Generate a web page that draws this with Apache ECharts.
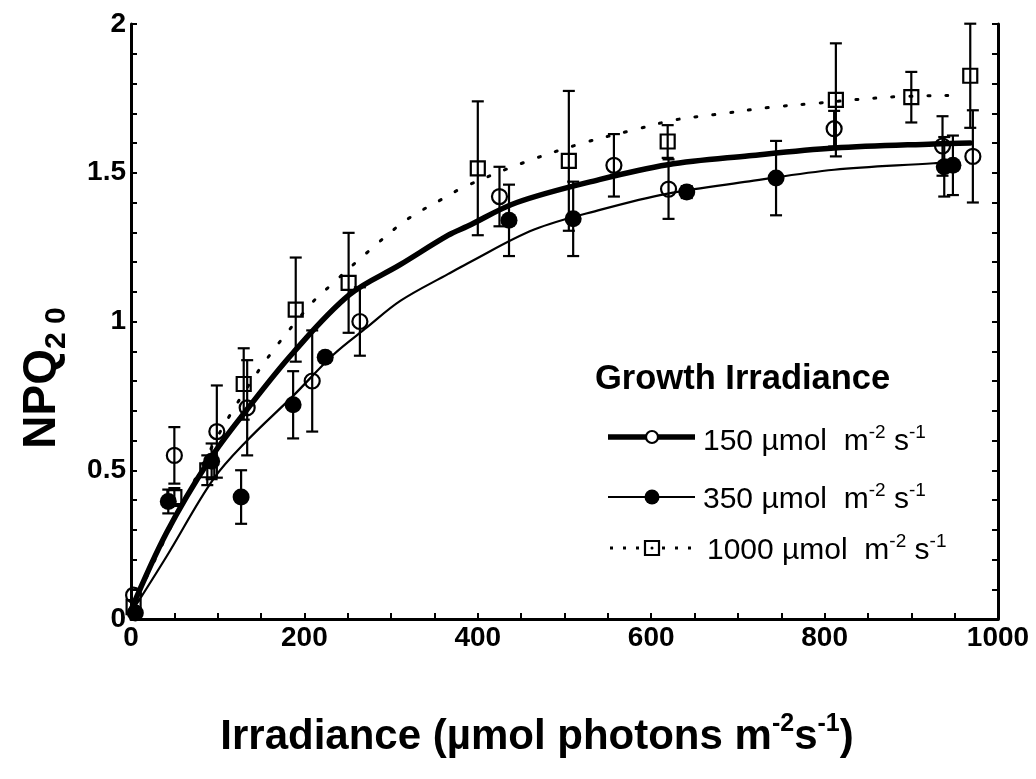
<!DOCTYPE html>
<html>
<head>
<meta charset="utf-8">
<script src="https://cdn.jsdelivr.net/npm/echarts@6/dist/echarts.min.js"></script>
<style>
  html, body { margin: 0; padding: 0; background: #fff; }
  #chart { width: 1036px; height: 779px; }
</style>
</head>
<body>
<div id="chart"></div>
<script>
// NPQ(20) versus irradiance for three growth irradiances

// Growth at 150 µmol m-2 s-1 (open circles)
const g150X   = [3, 50, 99, 134, 209, 264, 425, 557, 620, 811, 936, 971];
const g150Y   = [0.08, 0.55, 0.63, 0.71, 0.80, 1.00, 1.42, 1.525, 1.445, 1.648, 1.59, 1.555];
const g150Err = [0, 0.095, 0.155, 0.16, 0.17, 0.115, 0.10, 0.105, 0.10, 0.06, 0.10, 0.155];

// Growth at 350 µmol m-2 s-1 (filled circles)
const g350X   = [5, 43, 93, 127, 187, 224, 436, 510, 641, 744, 938, 948];
const g350Y   = [0.02, 0.395, 0.53, 0.41, 0.72, 0.88, 1.34, 1.345, 1.435, 1.482, 1.52, 1.525];
const g350Err = [0, 0.04, 0.06, 0.09, 0.113, 0, 0.12, 0.125, 0.02, 0.125, 0.1, 0.1];

// Growth at 1000 µmol m-2 s-1 (open squares)
const g1000X   = [3, 50, 88, 130, 190, 251, 400, 505, 619, 813, 900, 968];
const g1000Y   = [0.04, 0.41, 0.50, 0.79, 1.04, 1.13, 1.515, 1.54, 1.605, 1.745, 1.754, 1.826];
const g1000Err = [0, 0.03, 0.05, 0.12, 0.175, 0.168, 0.225, 0.235, 0.055, 0.19, 0.085, 0.175];

// Fitted curves
const fit150X  = [0, 41, 91, 134, 187, 252, 310, 366, 388, 445, 540, 619, 713, 811, 926, 968];
const fit150Y  = [0.03, 0.29, 0.537, 0.705, 0.895, 1.09, 1.19, 1.29, 1.32, 1.40, 1.477, 1.527, 1.557, 1.583, 1.597, 1.60];
const fit350X  = [0, 41, 95, 134, 187, 234, 272, 311, 366, 388, 465, 542, 619, 713, 811, 926, 940];
const fit350Y  = [0.02, 0.21, 0.47, 0.60, 0.75, 0.89, 0.98, 1.07, 1.16, 1.195, 1.309, 1.376, 1.43, 1.471, 1.51, 1.532, 1.536];
const fit1000X = [0, 41, 74, 110, 155, 207, 230, 274, 318, 361, 384, 451, 518, 584, 628, 672, 738, 784, 873, 942];
const fit1000Y = [0.03, 0.28, 0.47, 0.665, 0.867, 1.057, 1.121, 1.236, 1.342, 1.415, 1.452, 1.532, 1.597, 1.647, 1.678, 1.695, 1.72, 1.732, 1.754, 1.76];

// Axis ticks
const xTickLabels = ['0', '200', '400', '600', '800', '1000'];
const yTickLabels = ['0', '0.5', '1', '1.5', '2'];

const FONT = "'Liberation Sans', Arial, Helvetica, sans-serif";
const pairs = (xs, ys) => xs.map((x, i) => [x, ys[i]]);

function errorBars(xs, ys, errs) {
  const data = [];
  xs.forEach((x, i) => { if (errs[i] > 0) data.push([x, ys[i] - errs[i], ys[i] + errs[i]]); });
  return {
    type: 'custom',
    z: 3,
    silent: true,
    clip: false,
    data,
    encode: { x: 0, y: [1, 2] },
    renderItem(params, api) {
      const lo = api.coord([api.value(0), api.value(1)]);
      const hi = api.coord([api.value(0), api.value(2)]);
      const cap = 6;
      const style = { stroke: '#000', lineWidth: 2.2 };
      return {
        type: 'group',
        children: [
          { type: 'line', shape: { x1: lo[0], y1: lo[1], x2: hi[0], y2: hi[1] }, style },
          { type: 'line', shape: { x1: lo[0] - cap, y1: lo[1], x2: lo[0] + cap, y2: lo[1] }, style },
          { type: 'line', shape: { x1: hi[0] - cap, y1: hi[1], x2: hi[0] + cap, y2: hi[1] }, style }
        ]
      };
    }
  };
}

function fitLine(xs, ys, width, type) {
  return {
    type: 'line',
    data: pairs(xs, ys),
    smooth: 0.35,
    symbol: 'none',
    silent: true,
    z: 2,
    lineStyle: { color: '#000', width, type, cap: 'round' }
  };
}

function points(xs, ys, symbol, size, filled) {
  return {
    type: 'scatter',
    data: pairs(xs, ys),
    symbol,
    symbolSize: size,
    z: 4,
    silent: true,
    itemStyle: filled
      ? { color: '#000', borderColor: '#000', borderWidth: 0, opacity: 1 }
      : { color: 'rgba(0,0,0,0)', borderColor: '#000', borderWidth: 2.2, opacity: 1 }
  };
}

const axisLine = { show: true, onZero: false, lineStyle: { color: '#000', width: 3 } };
const tickStyle = { color: '#000', width: 2 };
const labelStyle = { color: '#000', fontSize: 28, fontWeight: 'bold', fontFamily: FONT };

const supRich = (size) => ({ sup: { fontSize: size, fontFamily: FONT, verticalAlign: 'top', lineHeight: size, fill: '#000' } });

const chart = echarts.init(document.getElementById('chart'), null, { renderer: 'canvas' });

chart.setOption({
  backgroundColor: '#fff',
  animation: false,
  grid: { left: 131, right: 38, top: 24, bottom: 160, containLabel: false, outerBoundsMode: 'none' },
  xAxis: {
    type: 'value',
    min: 0, max: 1000, interval: 200,
    axisLine,
    axisTick: { show: true, inside: true, length: 6, lineStyle: tickStyle },
    minorTick: { show: true, splitNumber: 4, length: 6, lineStyle: tickStyle },
    splitLine: { show: false },
    axisLabel: { ...labelStyle, margin: 5, formatter: (v) => xTickLabels[Math.round(v / 200)] }
  },
  yAxis: [
    {
      type: 'value',
      min: 0, max: 2, interval: 0.5,
      axisLine,
      axisTick: { show: true, inside: true, length: 6, lineStyle: tickStyle },
      minorTick: { show: true, splitNumber: 5, length: 6, lineStyle: tickStyle },
      splitLine: { show: false },
      axisLabel: { ...labelStyle, margin: 5, formatter: (v) => yTickLabels[Math.round(v / 0.5)] }
    },
    {
      type: 'value',
      position: 'right',
      min: 0, max: 2, interval: 0.5,
      axisLine,
      axisTick: { show: true, inside: true, length: 6, lineStyle: tickStyle },
      minorTick: { show: true, splitNumber: 5, length: 6, lineStyle: tickStyle },
      splitLine: { show: false },
      axisLabel: { show: false }
    }
  ],
  series: [
    fitLine(fit1000X, fit1000Y, 3, [2, 16]),
    fitLine(fit350X, fit350Y, 2.2, 'solid'),
    fitLine(fit150X, fit150Y, 5.5, 'solid'),
    errorBars(g1000X, g1000Y, g1000Err),
    errorBars(g350X, g350Y, g350Err),
    errorBars(g150X, g150Y, g150Err),
    points(g1000X, g1000Y, 'rect', 14, false),
    points(g350X, g350Y, 'circle', 17, true),
    points(g150X, g150Y, 'circle', 15, false)
  ],
  graphic: [
    // axis titles
    {
      type: 'text', x: 42, y: 378, rotation: Math.PI / 2,
      style: {
        text: 'NPQ{sub|2 0}',
        fontSize: 46, fontWeight: 'bold', fontFamily: FONT, fill: '#000',
        lineHeight: 60, align: 'center', verticalAlign: 'middle',
        rich: { sub: { fontSize: 30, fontWeight: 'bold', fontFamily: FONT, verticalAlign: 'bottom', lineHeight: 30, fill: '#000' } }
      }
    },
    {
      type: 'text', x: 537, y: 737,
      style: {
        text: 'Irradiance (µmol photons m{sup|-2}s{sup|-1})',
        fontSize: 42, fontWeight: 'bold', fontFamily: FONT, fill: '#000',
        lineHeight: 50, align: 'center', verticalAlign: 'middle',
        rich: { sup: { fontSize: 25, fontWeight: 'bold', fontFamily: FONT, verticalAlign: 'top', lineHeight: 25, fill: '#000' } }
      }
    },
    // legend
    {
      type: 'text', x: 595, y: 379,
      style: { text: 'Growth Irradiance', fontSize: 34.5, fontWeight: 'bold', fontFamily: FONT, fill: '#000', align: 'left', verticalAlign: 'middle' }
    },
    { type: 'line', shape: { x1: 608, y1: 437, x2: 695, y2: 437 }, style: { stroke: '#000', lineWidth: 5.5 } },
    { type: 'circle', shape: { cx: 652, cy: 437, r: 6 }, style: { fill: '#fff', stroke: '#000', lineWidth: 2.2 } },
    { type: 'line', shape: { x1: 608, y1: 497, x2: 695, y2: 497 }, style: { stroke: '#000', lineWidth: 2.2 } },
    { type: 'circle', shape: { cx: 652, cy: 497, r: 7.5 }, style: { fill: '#000' } },
    { type: 'line', shape: { x1: 610, y1: 548, x2: 700, y2: 548 }, style: { stroke: '#000', lineWidth: 3, lineDash: [3, 10] } },
    { type: 'rect', shape: { x: 645, y: 541, width: 14, height: 14 }, style: { fill: '#fff', stroke: '#000', lineWidth: 2.2 } },
    { type: 'circle', shape: { cx: 652, cy: 548, r: 1.5 }, style: { fill: '#000' } },
    {
      type: 'text', x: 703, y: 442,
      style: { text: '150 µmol  m{sup|-2} s{sup|-1}', fontSize: 30, fontFamily: FONT, fill: '#000', lineHeight: 38, align: 'left', verticalAlign: 'middle', rich: supRich(19) }
    },
    {
      type: 'text', x: 703, y: 500,
      style: { text: '350 µmol  m{sup|-2} s{sup|-1}', fontSize: 30, fontFamily: FONT, fill: '#000', lineHeight: 38, align: 'left', verticalAlign: 'middle', rich: supRich(19) }
    },
    {
      type: 'text', x: 707, y: 551,
      style: { text: '1000 µmol  m{sup|-2} s{sup|-1}', fontSize: 30, fontFamily: FONT, fill: '#000', lineHeight: 38, align: 'left', verticalAlign: 'middle', rich: supRich(19) }
    }
  ]
});
</script>
</body>
</html>
